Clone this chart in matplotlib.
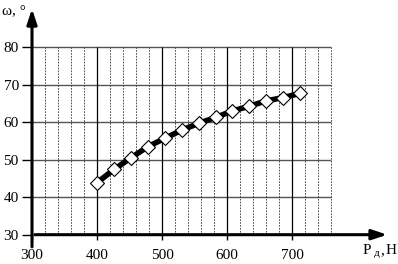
import numpy as np
import matplotlib
matplotlib.use("Agg")
import matplotlib.pyplot as plt

plt.rcParams['font.family'] = ['Liberation Serif', 'DejaVu Serif']

# data
force = [400, 426, 452, 478, 504, 530, 556, 582, 608, 634, 660, 686, 712]
omega = [43.9, 47.4, 50.5, 53.5, 55.7, 57.9, 59.7, 61.3, 63.0, 64.3, 65.7, 66.6, 67.7]

x_ticks = [300, 400, 500, 600, 700]
y_ticks = [30, 40, 50, 60, 70, 80]
x_minor = [320, 340, 360, 380, 420, 440, 460, 480, 520, 540, 560, 580,
           620, 640, 660, 680, 720, 740, 760]

fig = plt.figure(figsize=(3.98, 2.64), dpi=100)
ax = fig.add_axes([0.0804, 0.111, 0.8995, 0.866])
ax.set_xlim(300, 850)
ax.set_ylim(30, 91)

#grid by hand, it only covers part of the axes
ax.hlines(y_ticks[1:], 300, 760, color='#555555', lw=1.0, zorder=1)
ax.vlines(x_ticks[1:], 30, 80, color='black', lw=0.9, zorder=1)
ax.vlines(x_minor, 30, 80, color='#333333', lw=0.6, linestyles=(0, (2, 1.5)), zorder=1)

ax.plot(force, omega, color='black', lw=4, zorder=3,
        marker='D', markersize=7.5, markerfacecolor='white',
        markeredgecolor='black', markeredgewidth=0.8)

for s in ax.spines.values():
    s.set_visible(False)

#axes with arrows, y axis pokes a bit below the origin
ax.annotate('', xy=(1.0, 0), xytext=(0, 0), xycoords='axes fraction',
            arrowprops=dict(arrowstyle='-|>,head_length=0.9,head_width=0.3',
                            color='black', lw=2.2), annotation_clip=False)
ax.annotate('', xy=(0, 1.0), xytext=(0, -0.065), xycoords='axes fraction',
            arrowprops=dict(arrowstyle='-|>,head_length=0.9,head_width=0.3',
                            color='black', lw=2.2), annotation_clip=False)

ax.set_xticks(x_ticks)
ax.set_yticks(y_ticks)
ax.tick_params(axis='both', labelsize=11, width=1, color='black')
ax.tick_params(axis='x', length=3.5, pad=6.5)
ax.tick_params(axis='y', length=7.5, pad=2)

fig.text(0.005, 0.955, 'ω, °', fontsize=11, ha='left', va='center')
fig.text(0.912, 0.052, 'P', fontsize=11, ha='left', va='center')
fig.text(0.940, 0.040, 'д', fontsize=8, ha='left', va='center')
fig.text(0.955, 0.052, ',', fontsize=11, ha='left', va='center')
fig.text(0.968, 0.052, 'Н', fontsize=11, ha='left', va='center')

fig.savefig('out.png', dpi=100)
